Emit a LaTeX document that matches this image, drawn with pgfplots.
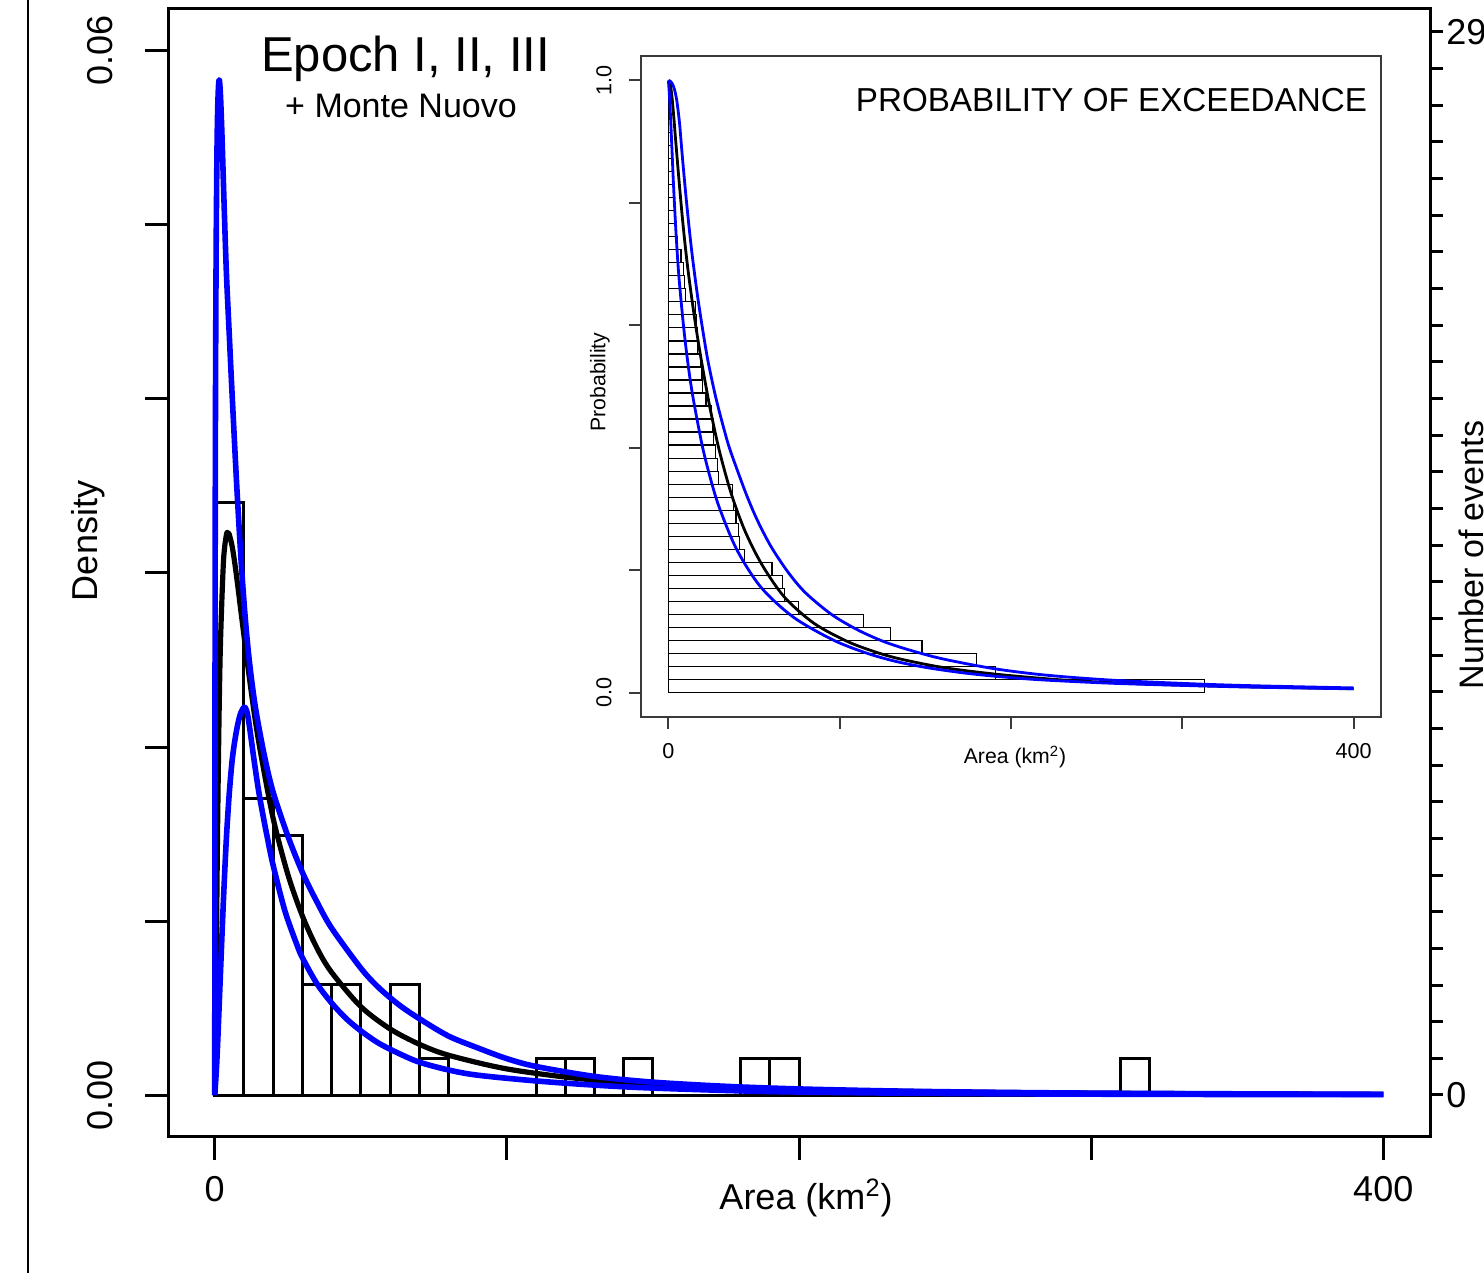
\documentclass[border=0pt]{standalone}
\usepackage{fontspec}
\setmainfont{Liberation Sans}
\usepackage{pgfplots}
\pgfplotsset{compat=1.18}
\definecolor{fitblue}{HTML}{0000FF}
\definecolor{insetgray}{HTML}{3A3A3A}

\begin{document}
\begin{tikzpicture}
% frame line on the left of the panel
\draw[line width=1pt] (14pt,0pt) -- (14pt,636.5pt);

% ---- main density plot ----
\begin{axis}[
  at={(84pt,68pt)}, anchor=south west,
  scale only axis, width=631pt, height=564pt,
  xmin=-16, xmax=416, ymin=-0.0024, ymax=0.0624,
  scaled x ticks=false, scaled y ticks=false,
  axis line style={line width=1.5pt},
  tick style={line width=1.5pt, black},
  tick align=outside, major tick length=11.5pt,
  xtick={0,100,200,300,400}, xticklabels={0,,,,400},
  ytick={0,0.01,0.02,0.03,0.04,0.05,0.06}, yticklabels={0.00,,,,,,0.06},
  xtick pos=left, ytick pos=left,
  ticklabel style={font=\fontsize{18}{20}\selectfont},
  xticklabel style={inner sep=0pt}, xticklabel shift=8pt,
  yticklabel style={rotate=90, anchor=south, inner sep=0pt}, yticklabel shift=16pt,
]
% histogram, 47 events, density = count/470
\addplot[ybar interval, fill=none, draw=black, line width=1.5pt] coordinates {
(0,0.034043)(10,0.017021)(20,0.014894)(30,0.006383)(40,0.006383)(50,0)(60,0.006383)
(70,0.002128)(80,0)(90,0)(100,0)(110,0.002128)(120,0.002128)(130,0)(140,0.002128)
(150,0)(160,0)(170,0)(180,0.002128)(190,0.002128)(200,0)(210,0)(220,0)(230,0)(240,0)
(250,0)(260,0)(270,0)(280,0)(290,0)(300,0)(310,0.002128)(320,0)};
% best fit
\addplot[black, line width=2.6pt, smooth, line join=round] coordinates {
(0,0)(0.25,0.0023)(0.5,0.0069)(0.75,0.0116)(1,0.0157)(1.5,0.0220)(2,0.0262)(3,0.0307)
(4,0.0322)(4.5,0.0323)(5,0.0322)(6,0.0315)(7,0.0304)(8,0.0291)(10,0.0264)(12,0.0238)
(14,0.0214)(16,0.0194)(20,0.0159)(25,0.0127)(30,0.0103)(35,0.00845)(40,0.00706)
(50,0.00509)(60,0.00381)(70,0.00293)(80,0.00230)(100,0.00151)(125,0.00095)(150,0.00064)
(200,0.00033)(250,0.00019)(300,0.00012)(350,0.00008)(400,0.00005)};
% upper bound
\addplot[fitblue, line width=2.8pt, smooth, line join=round] coordinates {
(0,0)(0.05,0.012)(0.1,0.024)(0.18,0.034)(0.3,0.042)(0.5,0.049)(0.75,0.0540)(1.0,0.0566)
(1.3,0.0580)(1.6,0.0583)(2.0,0.0573)(2.5,0.0550)(3.2,0.0512)(4.0,0.0472)(5.0,0.0436)
(5.7,0.0411)(6.5,0.0384)(7.1,0.0364)(7.8,0.0342)(9.1,0.0305)(10.5,0.0273)(12,0.0247)
(14,0.0222)(17,0.0195)(20,0.0174)(25,0.0149)(30,0.0128)(35,0.0111)(40,0.0096)(50,0.0073)
(56,0.0062)(63,0.0052)(70,0.0044)(80,0.0034)(90,0.00272)(100,0.0021)(110,0.00165)
(130,0.00108)(150,0.00075)(175,0.00051)(200,0.00036)(230,0.00025)(260,0.00018)
(300,0.00012)(350,0.00008)(400,0.00005)};
% lower bound
\addplot[fitblue, line width=2.8pt, smooth, line join=round] coordinates {
(0,0)(0.5,0.0013)(1,0.0030)(2,0.0072)(3,0.0113)(4,0.0148)(5,0.0174)(6,0.0193)(7,0.0205)
(8,0.0214)(9,0.0220)(10.2,0.0223)(11.2,0.0219)(12.2,0.0208)(13.5,0.0192)(15,0.0175)
(16.5,0.0161)(18,0.0148)(20,0.0132)(24,0.0106)(28,0.0087)(30,0.0079)(35,0.0064)
(40,0.0053)(45,0.0044)(50,0.0037)(56,0.0030)(63,0.0024)(70,0.0019)(80,0.00145)
(90,0.00115)(110,0.00082)(130,0.00058)(150,0.00041)(187,0.00022)(227,0.00013)
(260,0.00009)(300,0.00006)(350,0.00004)(400,0.00003)};
\end{axis}

% ---- right axis: number of events ----
\begin{axis}[
  at={(84pt,68pt)}, anchor=south west,
  scale only axis, width=631pt, height=564pt,
  xmin=-16, xmax=416, ymin=-1.146, ymax=29.627,
  scaled x ticks=false, scaled y ticks=false,
  axis line style={line width=1.5pt},
  tick style={line width=1.5pt, black},
  tick align=outside, major tick length=6.5pt,
  xtick=\empty, ytick pos=right,
  ytick={0,...,29}, yticklabels={0,,,,,,,,,,,,,,,,,,,,,,,,,,,,,29},
  yticklabel style={font=\fontsize{18}{20}\selectfont, anchor=west, inner sep=0pt},
  yticklabel shift=1.5pt,
]
\end{axis}

% ---- inset: probability of exceedance ----
\begin{axis}[
  at={(320.5pt,278pt)}, anchor=south west,
  scale only axis, width=370pt, height=330.5pt,
  xmin=-16, xmax=416, ymin=-0.04, ymax=1.04,
  scaled x ticks=false, scaled y ticks=false,
  axis background/.style={fill=white},
  axis line style={line width=1pt, insetgray},
  tick style={line width=1pt, insetgray},
  tick align=outside, major tick length=6pt,
  xtick={0,100,200,300,400}, xticklabels={0,,,,400},
  ytick={0,0.2,0.4,0.6,0.8,1}, yticklabels={0.0,,,,,1.0},
  xtick pos=left, ytick pos=left,
  ticklabel style={font=\fontsize{10.8}{12}\selectfont},
  xticklabel style={inner sep=0pt}, xticklabel shift=7pt,
  yticklabel style={rotate=90, anchor=south, inner sep=0pt}, yticklabel shift=8.5pt,
]
% sorted events, one row each (row k from y=(k-1)/47)
\addplot[xbar interval, fill=none, draw=black, line width=0.6pt] coordinates {
(313,0)(191,0.021277)(180,0.042553)(148,0.06383)(129.5,0.085106)(114,0.106383)
(76,0.12766)(68,0.148936)(66.5,0.170213)(60.5,0.191489)(44.5,0.212766)(41.5,0.234043)
(41,0.255319)(39.5,0.276596)(38,0.297872)(37.3,0.319149)(29.2,0.340426)(28.5,0.361702)
(27.4,0.382979)(26.5,0.404255)(26,0.425532)(25,0.446809)(22,0.468085)(19.9,0.489362)
(19.6,0.510638)(18.7,0.531915)(17.2,0.553191)(16.8,0.574468)(16.2,0.595745)(15.8,0.617021)
(10.2,0.638298)(9.3,0.659574)(8.7,0.680851)(7.4,0.702128)(5.2,0.723404)(4.7,0.744681)
(4.1,0.765957)(3.7,0.787234)(3.2,0.808511)(2.8,0.829787)(2.5,0.851064)(2.1,0.87234)
(1.8,0.893617)(1.5,0.914894)(1.2,0.93617)(0.9,0.957447)(0.6,0.978723)(0,1)};
\addplot[black, line width=1.4pt, smooth] coordinates {
(0,1.0)(1,0.995)(2,0.975)(3,0.945)(4,0.91)(5,0.876)(6,0.843)(8,0.78)(10,0.725)(12,0.678)
(15,0.617)(18,0.563)(21.6,0.505)(25,0.455)(30,0.392)(37,0.322)(45,0.262)(55,0.207)
(68,0.155)(85,0.113)(104,0.084)(120,0.067)(135,0.055)(160,0.041)(191,0.030)(230,0.0205)
(270,0.0148)(313,0.0110)(350,0.0086)(400,0.0062)};
\addplot[fitblue, line width=1.4pt, smooth] coordinates {
(0,1.0)(1,0.999)(2,0.996)(3,0.99)(4,0.98)(5,0.965)(6.5,0.93)(8,0.88)(10,0.818)(12,0.762)
(14,0.712)(17,0.648)(20,0.593)(23,0.543)(27,0.49)(30,0.456)(35,0.405)(40,0.365)(46,0.320)
(52,0.281)(60,0.238)(70,0.196)(80,0.163)(95,0.128)(110,0.103)(125,0.084)(140,0.070)
(160,0.055)(190,0.039)(220,0.0285)(260,0.020)(313,0.0135)(350,0.0105)(400,0.0075)};
\addplot[fitblue, line width=1.4pt, smooth] coordinates {
(0,1.0)(0.5,0.98)(1,0.955)(2,0.892)(3,0.828)(4.5,0.748)(6,0.684)(8,0.622)(10,0.569)
(12.5,0.515)(15,0.472)(20,0.400)(25,0.345)(30,0.300)(40,0.233)(54,0.172)(73,0.123)
(96,0.086)(115,0.065)(132,0.0513)(150,0.0411)(171,0.0325)(191,0.0265)(217,0.0208)
(260,0.0150)(313,0.0106)(350,0.0083)(400,0.0060)};
\end{axis}

% ---- texts ----
\node[anchor=base] at (202.75pt,600.5pt) {\fontsize{24.5}{28}\selectfont Epoch I, II, III};
\node[anchor=base] at (200.5pt,577.5pt) {\fontsize{17}{19}\selectfont + Monte Nuovo};
\node at (403pt,37.5pt) {\fontsize{18}{20}\selectfont Area (km\textsuperscript{2})};
\node[rotate=90] at (44pt,366pt) {\fontsize{18}{20}\selectfont Density};
\node[rotate=90, anchor=base, inner sep=0pt] at (741.6pt,359pt) {\fontsize{17}{20}\selectfont Number of events};
\node[anchor=east] at (687pt,586.5pt) {\fontsize{16.6}{19}\selectfont PROBABILITY OF EXCEEDANCE};
\node at (507.5pt,258pt) {\fontsize{10.6}{12}\selectfont Area (km\textsuperscript{2})};
\node[rotate=90] at (300pt,445.5pt) {\fontsize{10.6}{12}\selectfont Probability};

\pgfresetboundingbox
\useasboundingbox (0pt,0pt) rectangle (742pt,636.5pt);
\end{tikzpicture}
\end{document}
